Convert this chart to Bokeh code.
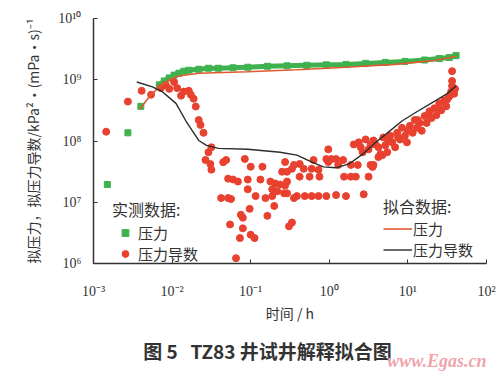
from bokeh.plotting import figure
from bokeh.layouts import column
from bokeh.models import FixedTicker, CustomJSTickFormatter, Legend, LegendItem
from bokeh.embed import file_html
from bokeh.resources import INLINE

# ---------------- data ----------------
x_ticks = [1e-3, 1e-2, 1e-1, 1e0, 1e1, 1e2]
y_ticks = [1e6, 1e7, 1e8, 1e9, 1e10]

# measured pseudo-pressure (green squares), time in h
mp_t = [0.0015, 0.00274, 0.0040, 0.00688, 0.00794, 0.00917, 0.0106, 0.0122, 0.0141,
        0.0163, 0.0218, 0.029, 0.0387, 0.0596, 0.0917, 0.163, 0.29, 0.516, 0.917,
        1.63, 2.90, 5.16, 9.17, 16.3, 25.1, 33.5, 41.0]
mp_v = [1.95e7, 1.36e8, 3.68e8, 8.25e8, 9.55e8, 1.07e9, 1.19e9, 1.28e9, 1.38e9,
        1.43e9, 1.48e9, 1.54e9, 1.54e9, 1.57e9, 1.60e9, 1.66e9, 1.69e9, 1.72e9, 1.75e9,
        1.78e9, 1.85e9, 1.92e9, 1.99e9, 2.10e9, 2.22e9, 2.30e9, 2.48e9]

# measured pseudo-pressure derivative (red circles)
md_t = [0.00145, 0.00274, 0.0041, 0.0054, 0.0072, 0.0083, 0.0092, 0.0106, 0.0116, 0.013,
        0.0141, 0.0163, 0.0173, 0.0188, 0.020, 0.0218, 0.023, 0.0251, 0.029, 0.0316,
        0.0266, 0.0307, 0.0316, 0.0447, 0.0487, 0.0841, 0.1, 0.141, 0.0516, 0.0596,
        0.0688, 0.0917, 0.133, 0.178, 0.205, 0.237, 0.274, 0.0917, 0.188, 0.2175,
        0.266, 0.042, 0.0516, 0.0562, 0.1155, 0.154, 0.188, 0.355, 0.097, 0.1995,
        0.075, 0.0794, 0.163, 0.0546, 0.0794, 0.1, 0.112, 0.0729, 0.307, 0.335,
        0.065, 0.274, 0.251, 0.29, 0.335, 0.355, 0.42, 0.473, 0.631, 0.596,
        0.729, 0.562, 0.75, 0.42, 0.917, 1.06, 1.22, 1.50, 0.97, 1.30,
        1.88, 2.30, 3.65, 1.54, 1.88, 2.175, 3.16, 0.387, 0.487, 0.596,
        0.729, 0.917, 1.22, 1.63, 2.74, 0.29, 0.29, 0.97, 3.35, 3.55,
        4.22, 4.73,
        2.05, 2.37, 2.66, 2.90, 3.16, 3.65, 3.87, 4.22, 4.47, 4.87,
        5.16, 5.46, 5.96, 6.31, 6.88, 7.29, 7.94, 8.41, 9.17, 9.72,
        10.6, 11.5, 12.2, 13.0, 14.1, 15.0, 16.3, 17.3, 18.8, 20.0,
        21.7, 23.0, 25.1, 26.6, 29.0, 30.7, 33.5, 35.5, 36.5, 36.5,
        36.5, 38.7, 39.8, 2.51, 3.35, 5.62, 7.5, 10.0, 13.3, 17.8,
        23.7, 31.6]
md_v = [1.42e8, 4.4e8, 6.6e8, 5.7e8, 7.3e8, 8.25e8, 7.1e8, 9.2e8, 7.3e8, 5.5e8,
        6.4e8, 6.6e8, 5.7e8, 4.9e8, 3.65e8, 2.2e8, 1.83e8, 1.36e8, 6.56e7, 7.9e7,
        4.9e7, 4.2e7, 3.4e7, 4.5e7, 4.9e7, 5.1e7, 3.8e7, 3.8e7, 2.43e7, 2.35e7,
        2.18e7, 2.35e7, 2.35e7, 2.18e7, 2.03e7, 1.95e7, 1.88e7, 1.63e7, 1.63e7, 1.51e7,
        1.40e7, 1.17e7, 1.17e7, 1.13e7, 1.26e7, 1.17e7, 1.26e7, 1.17e7, 7.8e6, 8.7e6,
        6.26e6, 5.6e6, 6.0e6, 4.34e6, 3.75e6, 2.95e6, 2.6e6, 2.6e6, 4.04e6, 4.67e6,
        1.22e6, 4.54e7, 3.15e7, 3.15e7, 3.52e7, 4.07e7, 4.22e7, 3.52e7, 4.89e7, 3.52e7,
        3.39e7, 2.62e7, 2.62e7, 2.62e7, 5.07e7, 5.07e7, 5.07e7, 4.89e7, 4.54e7, 4.07e7,
        4.07e7, 4.07e7, 4.07e7, 2.62e7, 2.62e7, 2.62e7, 2.62e7, 1.26e7, 1.26e7, 1.26e7,
        1.26e7, 1.26e7, 1.31e7, 1.26e7, 1.35e7, 1.4e7, 2.18e7, 7.3e7, 4.07e7, 3.78e7,
        5.46e7, 5.87e7,
        8.8e7, 9.5e7, 6.56e7, 1.06e8, 7.3e7, 1.02e8, 8.8e7, 7.9e7, 6.1e7, 1.14e8,
        8.5e7, 6.56e7, 1.22e8, 9.5e7, 7.9e7, 1.36e8, 1.06e8, 1.64e8, 1.22e8, 9.5e7,
        1.77e8, 1.36e8, 2.2e8, 1.64e8, 1.97e8, 1.47e8, 2.55e8, 1.97e8, 3.06e8, 2.37e8,
        3.42e8, 2.64e8, 4.11e8, 3.18e8, 4.58e8, 3.68e8, 5.3e8, 6.4e8, 7.9e8, 9.55e8,
        1.38e9, 5.9e8, 7.1e8, 7.9e7, 8.8e7, 1.02e8, 1.14e8, 1.47e8, 2.2e8, 2.64e8,
        3.42e8, 4.75e8]

# fitted pseudo-pressure (orange-red line)
fp_t = [0.00387, 0.00516, 0.00688, 0.00917, 0.0122, 0.0218, 0.0917, 0.387, 1.63, 6.88, 21.7, 41.0]
fp_v = [3.30e8, 5.31e8, 7.66e8, 9.91e8, 1.15e9, 1.28e9, 1.35e9, 1.46e9, 1.60e9, 1.78e9, 2.06e9, 2.39e9]

# fitted pseudo-pressure derivative (black line)
fd_t = [0.00355, 0.00562, 0.0075, 0.0112, 0.015, 0.0218, 0.0274, 0.0387, 0.0917, 0.237,
        0.387, 0.631, 0.841, 1.22, 1.78, 2.66, 3.87, 5.16, 8.41, 13.3, 21.7, 31.6, 41.0]
fd_v = [9.2e8, 7.66e8, 6.38e8, 4.11e8, 2.12e8, 1.02e8, 8.48e7, 7.59e7, 7.32e7, 6.56e7,
        5.87e7, 4.38e7, 3.78e7, 3.65e7, 4.22e7, 6.09e7, 9.47e7, 1.27e8, 2.12e8, 3.06e8,
        4.42e8, 5.93e8, 7.94e8]

caption_text = "图\u00a05\u00a0\u00a0\u00a0TZ83\u00a0井试井解释拟合图"
watermark_text = "www.Egas.cn"

# ---------------- figure ----------------
CJK = "Noto Sans CJK SC"
SERIF = "Liberation Serif"
GREEN = "#3fb24f"
RED = "#e8412f"
FITRED = "#e2582f"
BLACK = "#2b2b2b"
INK = "#333333"

p = figure(width=500, height=325, x_axis_type="log", y_axis_type="log",
           x_range=(1e-3, 1e2), y_range=(1e6, 1e10),
           output_backend="svg", toolbar_location=None,
           min_border_left=93, min_border_right=14, min_border_top=18, min_border_bottom=56)
p.outline_line_color = None
p.xgrid.grid_line_color = None
p.ygrid.grid_line_color = None
p.background_fill_color = "white"
p.border_fill_color = "white"

fmt = CustomJSTickFormatter(code="""
const e = Math.round(Math.log10(tick));
const sup = {'-':'\u207b','0':'\u2070','1':'\u00b9','2':'\u00b2','3':'\u00b3','4':'\u2074',
             '5':'\u2075','6':'\u2076','7':'\u2077','8':'\u2078','9':'\u2079'};
return '10' + String(e).split('').map(c => sup[c]).join('');
""")

for ax, ticks in ((p.xaxis[0], x_ticks), (p.yaxis[0], y_ticks)):
    ax.ticker = FixedTicker(ticks=ticks)
    ax.formatter = fmt
    ax.major_tick_in = 4
    ax.major_tick_out = 0
    ax.minor_tick_line_color = None
    ax.axis_line_color = INK
    ax.axis_line_width = 1.5
    ax.major_tick_line_color = INK
    ax.major_label_text_font = SERIF
    ax.major_label_text_font_size = "14px"
    ax.major_label_text_color = INK
    ax.axis_label_text_font = CJK
    ax.axis_label_text_font_size = "14px"
    ax.axis_label_text_font_style = "normal"
    ax.axis_label_text_color = INK

p.xaxis.major_label_standoff = 20
p.yaxis.major_label_standoff = 12
p.xaxis.axis_label = "时间 / h"
p.xaxis.axis_label_standoff = 1
p.yaxis.axis_label = "拟压力，拟压力导数/kPa²·(mPa·s)⁻¹"
p.yaxis.axis_label_standoff = 12

# measured pressure: dense band drawn as thick line + squares
p.line(mp_t[3:], mp_v[3:], line_color=GREEN, line_width=5)
sq = p.scatter(mp_t, mp_v, marker="square", size=6, fill_color=GREEN, line_color=GREEN)
# measured derivative
ci = p.scatter(md_t, md_v, marker="circle", size=7, fill_color=RED, line_color=RED)
# fitted curves
fpl = p.line(fp_t, fp_v, line_color=FITRED, line_width=1.6)
fdl = p.line(fd_t, fd_v, line_color=BLACK, line_width=1.4)

common = dict(background_fill_alpha=0, border_line_color=None, padding=0, margin=0,
              label_text_font=CJK, label_text_font_size="15px", label_text_color=INK,
              title_text_font=CJK, title_text_font_size="16px", title_text_color=INK,
              title_text_font_style="normal", glyph_height=17, label_height=17, spacing=0)

leg1 = Legend(items=[LegendItem(label="压力", renderers=[sq]),
                     LegendItem(label="压力导数", renderers=[ci])],
              title="实测数据:", location=(19, -1), glyph_width=26, label_standoff=0,
              title_standoff=1, **common)
leg2 = Legend(items=[LegendItem(label="压力", renderers=[fpl]),
                     LegendItem(label="压力导数", renderers=[fdl])],
              title="拟合数据:", location=(290, 3), glyph_width=29, label_standoff=1,
              title_standoff=0, **common)
p.add_layout(leg1, "center")
p.add_layout(leg2, "center")

# caption strip (second svg figure, no axes); its frame matches the chart frame,
# so its x coordinates are page pixels
q = figure(width=500, height=47, x_range=(93, 486), y_range=(0, 47),
           x_axis_location=None, y_axis_location=None,
           output_backend="svg", toolbar_location=None,
           min_border_left=93, min_border_right=14, min_border_top=0, min_border_bottom=0)
q.grid.visible = False
q.outline_line_color = None
q.border_fill_color = "white"
q.background_fill_color = "white"
q.text(x=[267], y=[22], text=[caption_text], text_align="center", text_baseline="middle",
       text_font={"value": CJK}, text_font_size="19px", text_font_style="bold", text_color=INK)
q.text(x=[486], y=[12], text=[watermark_text], text_align="right", text_baseline="middle",
       text_font={"value": SERIF}, text_font_size="18px", text_font_style="bold italic",
       text_color="#f0a3ab")

open("out.html", "w").write(file_html(column(p, q), INLINE))
